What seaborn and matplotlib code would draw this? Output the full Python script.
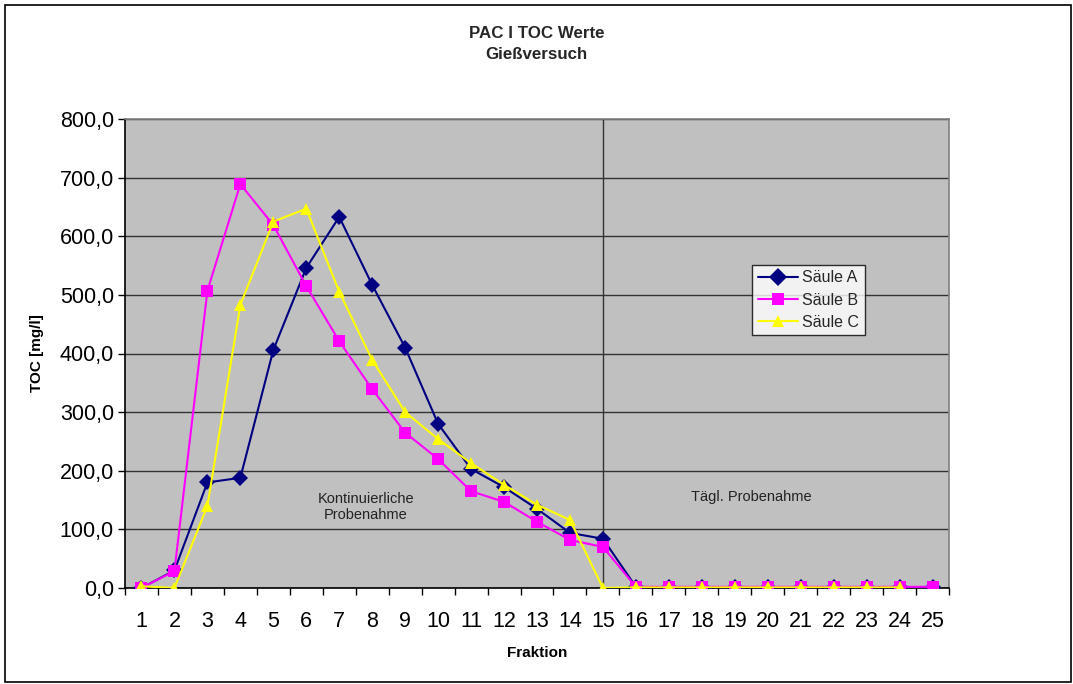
import numpy as np
import pandas as pd
import matplotlib
matplotlib.use("Agg")
import matplotlib.pyplot as plt
from matplotlib.patches import Rectangle
from matplotlib.ticker import FixedLocator, FuncFormatter
import seaborn as sns

fraktion = list(range(1, 26))
saeule_a = [0, 30, 180, 188, 406, 546, 633, 517, 410, 280, 203, 172, 135, 94, 84,
            2, 1, 1, 1, 1, 1, 1, 1, 1, 1]
saeule_b = [0, 29, 507, 689, 619, 515, 421, 339, 265, 220, 165, 147, 113, 82, 70,
            2, 2, 2, 2, 2, 2, 2, 2, 2, 2]
saeule_c = [3, 0, 140, 483, 625, 647, 505, 389, 300, 254, 213, 176, 142, 116, 0,
            1, 1, 1, 1, 1, 1, 1, 1, 1, np.nan]
series_names = ["Säule A", "Säule B", "Säule C"]
y_ticks = [0, 100, 200, 300, 400, 500, 600, 700, 800]

df = pd.DataFrame({
    "Fraktion": fraktion * 3,
    "TOC": saeule_a + saeule_b + saeule_c,
    "Säule": sum([[n] * len(fraktion) for n in series_names], []),
}).dropna()

sns.set_theme(style="white")
plt.rcParams["font.family"] = ["Liberation Sans", "DejaVu Sans"]

W, H = 1073, 684
fig = plt.figure(figsize=(W / 100, H / 100), dpi=100)
ax = fig.add_axes([125 / W, 1 - 588 / H, 824 / W, 469 / H])
ax.set_facecolor("#C0C0C0")

palette = {"Säule A": "#000080", "Säule B": "#FF00FF", "Säule C": "#FFFF00"}
markers = {"Säule A": "D", "Säule B": "s", "Säule C": "^"}
sns.lineplot(data=df, x="Fraktion", y="TOC", hue="Säule", style="Säule",
             palette=palette, markers=markers, dashes=False, markersize=8,
             markeredgewidth=0, linewidth=1.5, ax=ax, legend=True, zorder=3)

ax.set_xlim(0.5, 25.5)
ax.set_ylim(0, 800)
ax.yaxis.set_major_locator(FixedLocator(y_ticks))
ax.yaxis.set_major_formatter(FuncFormatter(lambda v, p: f"{v:.1f}".replace(".", ",")))
ax.set_xticks(fraktion)
ax.set_xticks(np.arange(0.5, 26, 1), minor=True)
ax.tick_params(axis="x", which="major", length=0, labelsize=15.5, pad=16.5, colors="black")
ax.tick_params(axis="x", which="minor", length=5, width=1, color="black", direction="out", bottom=True)
ax.tick_params(axis="y", which="major", length=5, width=1, color="black", direction="out",
               left=True, labelsize=15.5, pad=3, colors="black")
ax.grid(axis="y", color="#333333", linewidth=1, zorder=1)
ax.set_axisbelow(True)
for s in ax.spines.values():
    s.set_color("#808080")
    s.set_linewidth(1.2)
ax.spines["left"].set_color("black")
ax.spines["bottom"].set_color("black")

ax.axvline(15, color="#333333", linewidth=1, zorder=2)

ax.set_xlabel("Fraktion", fontsize=11, fontweight="bold", labelpad=10, color="black")
ax.set_ylabel("TOC [mg/l]", fontsize=11, fontweight="bold", labelpad=11, color="black")

ax.text(7.8, 138, "Kontinuierliche\nProbenahme", ha="center", va="center",
        fontsize=10.5, color="#222222")
ax.text(19.5, 156, "Tägl. Probenahme", ha="center", va="center",
        fontsize=10.5, color="#222222")

handles, labels = ax.get_legend_handles_labels()
for h in handles:
    h.set_markersize(9)
leg = ax.legend(handles, labels, loc="upper left", bbox_to_anchor=(0.761, 0.689),
                frameon=True, fancybox=False, fontsize=11.5, borderpad=0.35,
                labelspacing=0.45, handlelength=2.5, handletextpad=0.3,
                borderaxespad=0)
leg.get_frame().set_edgecolor("black")
leg.get_frame().set_facecolor("white")
leg.get_frame().set_linewidth(1)

fig.text(0.5, 1 - 44 / H, "PAC I TOC Werte\nGießversuch", ha="center", va="center",
         fontsize=12.2, fontweight="bold", linespacing=1.45)

fig.patches.append(Rectangle((5 / W, 2 / H), 1066 / W, 677 / H,
                             transform=fig.transFigure, fill=False,
                             edgecolor="black", linewidth=1.2))

fig.savefig("out.png", dpi=100, facecolor="white")
